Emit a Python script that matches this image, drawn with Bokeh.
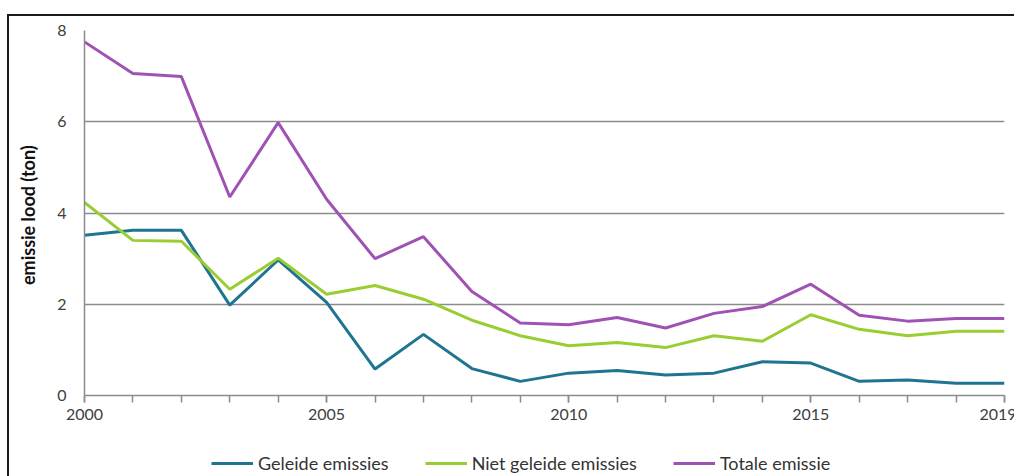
from bokeh.plotting import figure
from bokeh.layouts import column
from bokeh.models import FixedTicker, Legend, LegendItem, ColumnDataSource
from bokeh.embed import file_html
from bokeh.resources import INLINE

years = list(range(2000, 2020))
geleide = [3.51, 3.62, 3.62, 1.98, 2.97, 2.04, 0.58, 1.34, 0.59, 0.31,
           0.49, 0.55, 0.45, 0.49, 0.74, 0.71, 0.31, 0.34, 0.27, 0.27]
niet_geleide = [4.23, 3.40, 3.38, 2.33, 3.01, 2.22, 2.41, 2.11, 1.65, 1.31,
                1.09, 1.16, 1.05, 1.31, 1.19, 1.77, 1.45, 1.31, 1.41, 1.41]
totaal = [7.75, 7.06, 6.99, 4.35, 5.98, 4.30, 3.00, 3.48, 2.28, 1.59,
          1.55, 1.71, 1.48, 1.80, 1.95, 2.44, 1.76, 1.63, 1.69, 1.69]
x_labels = [2000, 2005, 2010, 2015, 2019]
y_ticks = [0, 2, 4, 6, 8]
series_names = ["Geleide emissies", "Niet geleide emissies", "Totale emissie"]
colors = ["#1F7590", "#9ACD32", "#A052B4"]

FONT = "Lato"

src = ColumnDataSource(dict(year=years, g=geleide, n=niet_geleide, t=totaal))

# ---- main chart ----
p = figure(width=1007, height=430, x_range=(2000, 2019), y_range=(0, 8),
           output_backend="svg", toolbar_location=None,
           min_border_left=75, min_border_right=12, min_border_top=14,
           min_border_bottom=51)
p.outline_line_color = None
p.background_fill_color = "white"
p.border_fill_color = "white"

p.xaxis.ticker = FixedTicker(ticks=x_labels, minor_ticks=years)
p.xaxis.axis_line_color = "#8c8c8c"
p.xaxis.axis_line_width = 1.5
p.xaxis.major_tick_line_color = "#8c8c8c"
p.xaxis.minor_tick_line_color = "#8c8c8c"
p.xaxis.major_tick_line_width = 1.5
p.xaxis.minor_tick_line_width = 1.5
p.xaxis.major_tick_in = 0
p.xaxis.major_tick_out = 7
p.xaxis.minor_tick_in = 0
p.xaxis.minor_tick_out = 7
p.xaxis.major_label_text_font = FONT
p.xaxis.major_label_text_font_size = "16px"
p.xaxis.major_label_text_color = "#404040"
p.xaxis.major_label_standoff = 6

p.yaxis.ticker = FixedTicker(ticks=y_ticks)
p.yaxis.axis_line_color = "#8c8c8c"
p.yaxis.axis_line_width = 1.5
p.yaxis.major_tick_in = 0
p.yaxis.major_tick_out = 0
p.yaxis.minor_tick_line_color = None
p.yaxis.major_label_text_font = FONT
p.yaxis.major_label_text_font_size = "16px"
p.yaxis.major_label_text_color = "#404040"
p.yaxis.major_label_standoff = 18
p.yaxis.axis_label = "emissie lood  (ton)"
p.yaxis.axis_label_text_font = FONT
p.yaxis.axis_label_text_font_style = "bold"
p.yaxis.axis_label_text_font_size = "18px"
p.yaxis.axis_label_text_color = "#111111"
p.yaxis.axis_label_standoff = 15

p.xgrid.grid_line_color = None
p.ygrid.grid_line_color = "#8c8c8c"
p.ygrid.grid_line_width = 1.5

for col, c in zip(["g", "n", "t"], colors):
    p.line("year", col, source=src, line_color=c, line_width=3)

# ---- legend strip (same series, drawn out of view; only the legend shows) ----
lf = figure(width=1007, height=32, x_range=(0, 1), y_range=(0, 1),
            output_backend="svg", toolbar_location=None,
            min_border=0, min_border_left=0, min_border_right=0,
            min_border_top=0, min_border_bottom=0)
lf.axis.visible = False
lf.grid.visible = False
lf.outline_line_color = None
lf.border_fill_color = "white"
leg_renderers = []
for col, c in zip(["g", "n", "t"], colors):
    leg_renderers.append(lf.line("year", col, source=src, line_color=c, line_width=3))

legend = Legend(items=[LegendItem(label=n, renderers=[r])
                       for n, r in zip(series_names, leg_renderers)],
                location=(127, 4), orientation="horizontal",
                border_line_color=None, background_fill_alpha=0,
                padding=0, margin=0, spacing=36,
                glyph_width=42, glyph_height=20,
                label_height=20, label_standoff=5,
                label_text_font=FONT, label_text_font_size="18px",
                label_text_color="#333333")
lf.add_layout(legend, "center")

layout = column(p, lf, spacing=0)
layout.margin = (14, 0, 0, 7)
layout.styles = {"border-top": "2px solid #1a1a1a", "border-left": "2px solid #1a1a1a",
                 "box-sizing": "border-box"}

open("out.html", "w").write(file_html(layout, INLINE))
